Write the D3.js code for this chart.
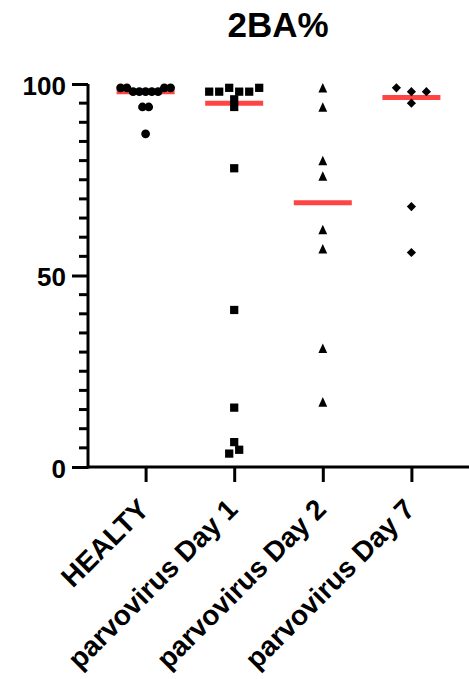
<!DOCTYPE html>
<html>
<head>
<meta charset="utf-8">
<script src="https://cdn.jsdelivr.net/npm/d3@7"></script>
<style>
  body { margin: 0; background: #fff; }
  svg text { font-family: "Liberation Sans", Arial, sans-serif; font-weight: bold; fill: #000; }
</style>
</head>
<body>
<svg id="chart"></svg>
<script>
// values
const categories = ["HEALTY", "parvovirus Day 1", "parvovirus Day 2", "parvovirus Day 7"];
const healty = [99, 99, 98, 98, 98, 98, 98, 99, 99, 94, 94, 87];
const day1 = [98, 98, 99, 98, 98, 99, 96, 94, 78, 41, 15.5, 6.5, 3.5, 4.5];
const day2 = [99, 94, 80, 76, 62, 57, 31, 17];
const day7 = [99, 98, 98, 95, 68, 56];
const yTicks = [0, 50, 100];
const title = "2BA%";

const width = 469, height = 679;
const svg = d3.select("#chart").attr("width", width).attr("height", height);

const groups = [healty, day1, day2, day7];

const x = d3.scalePoint().domain(categories).range([88, 469]).padding(0.65);
const y = d3.scaleLinear().domain([0, 100]).range([467, 84]);

// custom marker shapes
const tri = {
    draw(ctx, size) {
        const w = Math.sqrt(size) * 1.0, h = Math.sqrt(size) * 1.08;
        ctx.moveTo(0, -h / 2);
        ctx.lineTo(w / 2, h / 2);
        ctx.lineTo(-w / 2, h / 2);
        ctx.closePath();
    }
};
const diamond = {
    draw(ctx, size) {
        const r = Math.sqrt(size) / 2;
        ctx.moveTo(0, -r);
        ctx.lineTo(r, 0);
        ctx.lineTo(0, r);
        ctx.lineTo(-r, 0);
        ctx.closePath();
    }
};
const shapes = [
    d3.symbol(d3.symbolCircle, 60),
    d3.symbol(d3.symbolSquare, 68),
    d3.symbol(tri, 78),
    d3.symbol(diamond, 84)
];

// title
svg.append("text")
    .attr("x", 278)
    .attr("y", 37)
    .attr("text-anchor", "middle")
    .style("font-size", "35px")
    .text(title);

// y axis
const yAxis = d3.axisLeft(y).tickValues(yTicks).tickSize(16).tickPadding(6).tickFormat(d3.format("d"));
const axY = svg.append("g").attr("transform", "translate(88,0)").call(yAxis);
axY.select(".domain").attr("stroke-width", 3).attr("d", `M0,${y(0) + 1.5}V${y(100)}`);
axY.selectAll(".tick line").attr("stroke-width", 3);
axY.selectAll(".tick text").style("font-size", "26px").style("font-family", "Liberation Sans, Arial, sans-serif").attr("dy", "0.4em");

// minor ticks every 5
axY.selectAll(".minor").data(d3.range(5, 100, 5).filter(v => v % 50 !== 0)).enter().append("line")
    .attr("class", "minor")
    .attr("x1", -9).attr("x2", 0)
    .attr("y1", d => y(d)).attr("y2", d => y(d))
    .attr("stroke", "#000").attr("stroke-width", 3);

// x axis
const xAxis = d3.axisBottom(x).tickSize(15).tickFormat("");
const axX = svg.append("g").attr("transform", `translate(0,${y(0)})`).call(xAxis);
axX.select(".domain").attr("stroke-width", 3).attr("d", `M88,0H469`);
axX.selectAll(".tick line").attr("stroke-width", 3);

// rotated category labels (the reference crops the long ones at the bottom edge too)
svg.selectAll(".xlabel").data(categories).enter().append("text")
    .attr("class", "xlabel")
    .attr("text-anchor", "end")
    .attr("transform", d => `translate(${x(d) + 5},511) rotate(-45)`)
    .style("font-size", "28px")
    .text(d => d);

// median lines
svg.selectAll(".median").data(groups).enter().append("line")
    .attr("class", "median")
    .attr("x1", (d, i) => x(categories[i]) - 29)
    .attr("x2", (d, i) => x(categories[i]) + 29)
    .attr("y1", d => y(d3.median(d)))
    .attr("y2", d => y(d3.median(d)))
    .attr("stroke", "#ff4444")
    .attr("stroke-width", 5);

// scatter: points with close values share a row and spread sideways
groups.forEach((vals, gi) => {
    const rowOf = v => Math.floor(v / 2.5);
    const rows = d3.group(vals.map((v, i) => ({ v, i })), d => rowOf(d.v));
    const maxRow = d3.max(Array.from(rows.values()), r => r.length);
    const step = maxRow > 1 ? Math.min(15, 50 / (maxRow - 1)) : 15;
    const pts = [];
    rows.forEach(r => {
        r.forEach((p, k) => {
            pts.push({ v: p.v, dx: (k - (r.length - 1) / 2) * step });
        });
    });
    svg.append("g").selectAll("path").data(pts).enter().append("path")
        .attr("d", shapes[gi])
        .attr("transform", d => `translate(${x(categories[gi]) + d.dx},${y(d.v)})`)
        .attr("fill", "#000");
});
</script>
</body>
</html>
